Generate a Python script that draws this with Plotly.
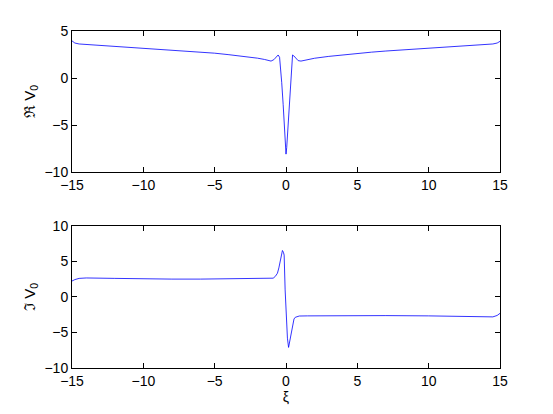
import plotly.graph_objects as go
from plotly.subplots import make_subplots

# real part of V0 against xi
xi_re = [-15, -14.8, -14.5, -14, -13, -12, -11, -10, -9, -8, -7, -6, -5, -4, -3, -2, -1.5,
         -1.05, -0.85, -0.7, -0.55, -0.45, -0.38, -0.3, -0.2, -0.12, -0.05, 0, 0.05, 0.12,
         0.2, 0.3, 0.38, 0.46, 0.55, 0.7, 0.85, 1.05, 1.5, 2, 3, 4, 5, 6, 7, 8, 9, 10,
         11, 12, 13, 14, 14.5, 14.8, 15]
re_v0 = [3.95, 3.72, 3.62, 3.57, 3.48, 3.39, 3.30, 3.21, 3.11, 3.00, 2.89, 2.77, 2.64,
         2.48, 2.31, 2.11, 1.97, 1.80, 1.95, 2.25, 2.45, 2.2, 1.2, -0.5, -2.8, -5.0, -7.2,
         -8.1, -7.4, -5.5, -3.2, -0.6, 1.3, 2.45, 2.35, 2.05, 1.85, 1.80, 1.96, 2.1, 2.3,
         2.47, 2.63, 2.75, 2.87, 2.97, 3.07, 3.16, 3.26, 3.35, 3.45, 3.55, 3.62, 3.72, 3.9]

# imaginary part of V0 against xi
xi_im = [-15, -14.8, -14.5, -14, -12, -10, -8, -6, -4, -2, -1.2, -0.9, -0.75, -0.6, -0.5,
         -0.44, -0.32, -0.25, -0.18, -0.13, -0.06, 0.03, 0.1, 0.18, 0.26, 0.34, 0.46, 0.56,
         0.65, 0.8, 0.93, 1.5, 3, 5, 7, 10, 12, 14, 14.5, 14.8, 15]
im_v0 = [2.25, 2.45, 2.62, 2.68, 2.62, 2.55, 2.52, 2.52, 2.55, 2.58, 2.6, 2.65, 2.9, 3.35,
         4.1, 4.75, 6.15, 6.55, 6.3, 5.9, 1.0, -3.7, -5.8, -7.1, -6.2, -5.1, -3.7, -3.1,
         -2.86, -2.74, -2.68, -2.66, -2.63, -2.62, -2.62, -2.66, -2.72, -2.8, -2.8, -2.6, -2.3]

x_ticks = [-15, -10, -5, 0, 5, 10, 15]
re_ticks = [-10, -5, 0, 5]
im_ticks = [-10, -5, 0, 5, 10]

fig = make_subplots(rows=2, cols=1)

fig.add_trace(go.Scatter(x=xi_re, y=re_v0, mode="lines",
                         line=dict(color="#0000ff", width=0.8)), row=1, col=1)
fig.add_trace(go.Scatter(x=xi_im, y=im_v0, mode="lines",
                         line=dict(color="#0000ff", width=0.8)), row=2, col=1)

axis_style = dict(
    showline=True,
    mirror="ticks",
    linecolor="black",
    linewidth=1,
    ticks="inside",
    ticklen=5,
    tickcolor="black",
    showgrid=False,
    zeroline=False,
    tickfont=dict(size=14, color="black"),
)

fig.update_xaxes(range=[-15, 15], tickvals=x_ticks, **axis_style)
fig.update_yaxes(**axis_style)

# the page body adds 8px on the left and top, margins make up for it
fig.update_layout(
    width=553,
    height=414,
    margin=dict(l=64, r=61, t=23, b=54),
    showlegend=False,
    plot_bgcolor="white",
    paper_bgcolor="white",
    font=dict(family="Liberation Sans, Arial, sans-serif", color="black"),
    xaxis=dict(domain=[0, 1]),
    yaxis=dict(domain=[0.5816, 1], range=[-10, 5], tickvals=re_ticks,
               title=dict(text="ℜ V<sub>0</sub>", font=dict(size=15), standoff=5)),
    xaxis2=dict(title=dict(text="ξ", font=dict(size=14), standoff=0)),
    yaxis2=dict(domain=[0, 0.4214], range=[-10, 10], tickvals=im_ticks,
                title=dict(text="ℑ V<sub>0</sub>", font=dict(size=15), standoff=5)),
)

fig.write_html("out.html")
